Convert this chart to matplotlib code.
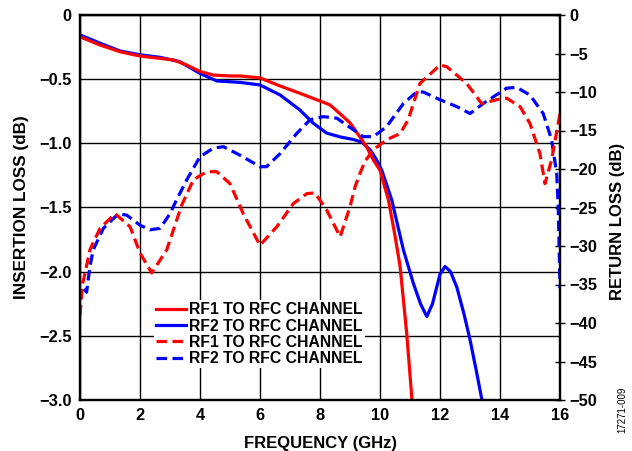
import matplotlib
matplotlib.use("Agg")
import matplotlib.pyplot as plt
from matplotlib.ticker import FixedLocator, FuncFormatter

plt.rcParams['font.family'] = ['Liberation Sans', 'DejaVu Sans']
plt.rcParams['font.weight'] = 'bold'

# ---- data ----
f_il_rf1 = [0, 0.67, 1.33, 2.0, 2.67, 3.11, 3.56, 4.0, 4.44, 5.0, 5.33, 6.0, 6.67, 7.33,
            8.0, 8.33, 8.67, 9.0, 9.33, 9.56, 9.78, 10.0, 10.28, 10.5, 10.67, 10.89, 11.06, 11.1]
il_rf1 = [-0.17, -0.234, -0.286, -0.32, -0.338, -0.35, -0.39, -0.44, -0.468, -0.475, -0.475,
          -0.49, -0.553, -0.61, -0.67, -0.70, -0.77, -0.84, -0.95, -1.03, -1.13, -1.21,
          -1.44, -1.72, -1.96, -2.48, -2.98, -3.1]

f_il_rf2 = [0, 0.67, 1.33, 2.0, 2.67, 3.33, 4.0, 4.56, 5.33, 6.0, 6.67, 7.33, 7.78, 8.22,
            8.67, 9.11, 9.39, 9.67, 9.89, 10.06, 10.39, 10.78, 11.11, 11.35, 11.56, 11.75,
            12.0, 12.17, 12.35, 12.56, 12.8, 13.0, 13.2, 13.39, 13.45]
il_rf2 = [-0.155, -0.22, -0.28, -0.31, -0.33, -0.364, -0.455, -0.514, -0.525, -0.545,
          -0.623, -0.74, -0.844, -0.92, -0.95, -0.97, -0.99, -1.05, -1.13, -1.21, -1.44,
          -1.83, -2.09, -2.25, -2.35, -2.25, -2.02, -1.96, -2.0, -2.12, -2.33, -2.53,
          -2.76, -2.99, -3.07]

f_rl_rf1 = [0, 0.08, 0.17, 0.33, 0.67, 1.17, 1.67, 2.0, 2.39, 2.89, 3.39, 3.78, 4.22, 4.56,
            5.0, 5.44, 6.0, 6.56, 7.11, 7.56, 7.83, 8.22, 8.67, 9.0, 9.17, 9.33, 9.5, 9.78,
            10.22, 10.67, 10.94, 11.33, 12.0, 12.22, 12.89, 13.39, 13.89, 14.22, 14.67,
            15.0, 15.33, 15.5, 15.72, 16.0]
rl_rf1 = [-39, -35, -33.5, -30.5, -27.7, -25.8, -27.5, -30.9, -33.5, -30.5, -24.7, -21.4,
          -20.35, -20.35, -21.9, -25.8, -29.9, -27.5, -24.5, -23.2, -23.1, -25.3, -28.8,
          -24.9, -22.3, -20.6, -19.0, -17.5, -16.2, -15.4, -13.6, -8.9, -6.5, -6.7, -8.9,
          -11.5, -11.0, -10.8, -11.9, -14.1, -18.0, -21.9, -18.8, -12.8]

f_rl_rf2 = [0, 0.08, 0.22, 0.33, 0.44, 0.78, 1.28, 1.56, 2.0, 2.33, 2.67, 3.0, 3.22, 3.56,
            4.0, 4.44, 4.78, 5.33, 6.0, 6.22, 6.67, 7.22, 7.67, 8.11, 8.56, 9.0, 9.44,
            9.78, 10.22, 10.78, 11.22, 11.44, 12.0, 12.56, 13.0, 13.44, 14.22, 14.56,
            15.0, 15.44, 15.72, 15.89, 15.94, 15.97, 16.0]
rl_rf2 = [-37, -35.3, -36, -32.7, -30.5, -27.7, -25.8, -26, -27.3, -27.9, -27.7, -25.8,
          -24, -21.4, -18.4, -17.3, -17.1, -18.2, -19.7, -19.7, -18, -15.4, -13.6, -13.2,
          -13.4, -14.6, -15.8, -15.8, -14.5, -11.5, -10.0, -10.0, -11.0, -11.9, -12.8,
          -11.5, -9.5, -9.4, -10.4, -12.8, -16.2, -20.6, -24.9, -30, -35.5]

labels = ["RF1 TO RFC CHANNEL", "RF2 TO RFC CHANNEL",
          "RF1 TO RFC CHANNEL", "RF2 TO RFC CHANNEL"]
x_ticks = [0, 2, 4, 6, 8, 10, 12, 14, 16]
il_ticks = [0, -0.5, -1.0, -1.5, -2.0, -2.5, -3.0]
rl_ticks = [0, -5, -10, -15, -20, -25, -30, -35, -40, -45, -50]

RED = '#ff0000'
BLUE = '#0000ff'

fig = plt.figure(figsize=(6.32, 4.51), dpi=100)
ax = fig.add_axes([80/632, 51/451, 480/632, 385/451])
ax2 = ax.twinx()

lw = 2.3
dash = (3.3, 1.7)
l2, = ax.plot(f_il_rf2, il_rf2, color=BLUE, lw=lw, zorder=3)
l1, = ax.plot(f_il_rf1, il_rf1, color=RED, lw=lw, zorder=4)
l4, = ax2.plot(f_rl_rf2, rl_rf2, color=BLUE, lw=lw, dashes=dash)
l3, = ax2.plot(f_rl_rf1, rl_rf1, color=RED, lw=lw, dashes=dash)

ax.set_xlim(0, 16)
ax.set_ylim(-3, 0)
ax2.set_ylim(-50, 0)

ax.xaxis.set_major_locator(FixedLocator(x_ticks))
ax.yaxis.set_major_locator(FixedLocator(il_ticks))
ax2.yaxis.set_major_locator(FixedLocator(rl_ticks))

def fmt_il(v, pos):
    if abs(v) < 1e-9:
        return "0"
    return ("%.1f" % v).replace('-', '\u2212')

def fmt_rl(v, pos):
    if abs(v) < 1e-9:
        return "0"
    return ("%d" % v).replace('-', '\u2212')

ax.yaxis.set_major_formatter(FuncFormatter(fmt_il))
ax2.yaxis.set_major_formatter(FuncFormatter(fmt_rl))
ax.xaxis.set_major_formatter(FuncFormatter(lambda v, p: "%d" % v))

ax.grid(True, color='black', lw=1.0)
ax.set_axisbelow(True)
ax.tick_params(axis='both', length=0, labelsize=11.8, pad=6)
ax2.tick_params(axis='y', direction='inout', length=7, width=1.0, labelsize=11.8, pad=3)
for lab in ax.get_xticklabels() + ax.get_yticklabels() + ax2.get_yticklabels():
    lab.set_fontweight('bold')

for a in (ax, ax2):
    for s in a.spines.values():
        s.set_linewidth(1.6)

ax.set_xlabel("FREQUENCY (GHz)", fontsize=12, fontweight='bold', labelpad=9)
ax.set_ylabel("INSERTION LOSS (dB)", fontsize=12.3, fontweight='bold', labelpad=7)
ax2.set_ylabel("RETURN LOSS (dB)", fontsize=12, fontweight='bold', labelpad=8)
ax2.yaxis.set_label_coords(1.0 + 50/480, 0.465)

leg = ax2.legend([l1, l2, l3, l4], labels, loc='upper left',
                 bbox_to_anchor=(74/480, 100/385), frameon=True, fancybox=False,
                 framealpha=1.0, edgecolor='none', facecolor='white',
                 fontsize=11.3, handlelength=1.9, handletextpad=0.2,
                 labelspacing=0.08, borderpad=0.15, borderaxespad=0)
for t in leg.get_texts():
    t.set_fontweight('bold')

fig.text(622/632, 1 - 410/451, "17271-009", rotation=90, fontsize=7,
         fontweight='normal', ha='center', va='center')

fig.savefig("out.png", dpi=100)
